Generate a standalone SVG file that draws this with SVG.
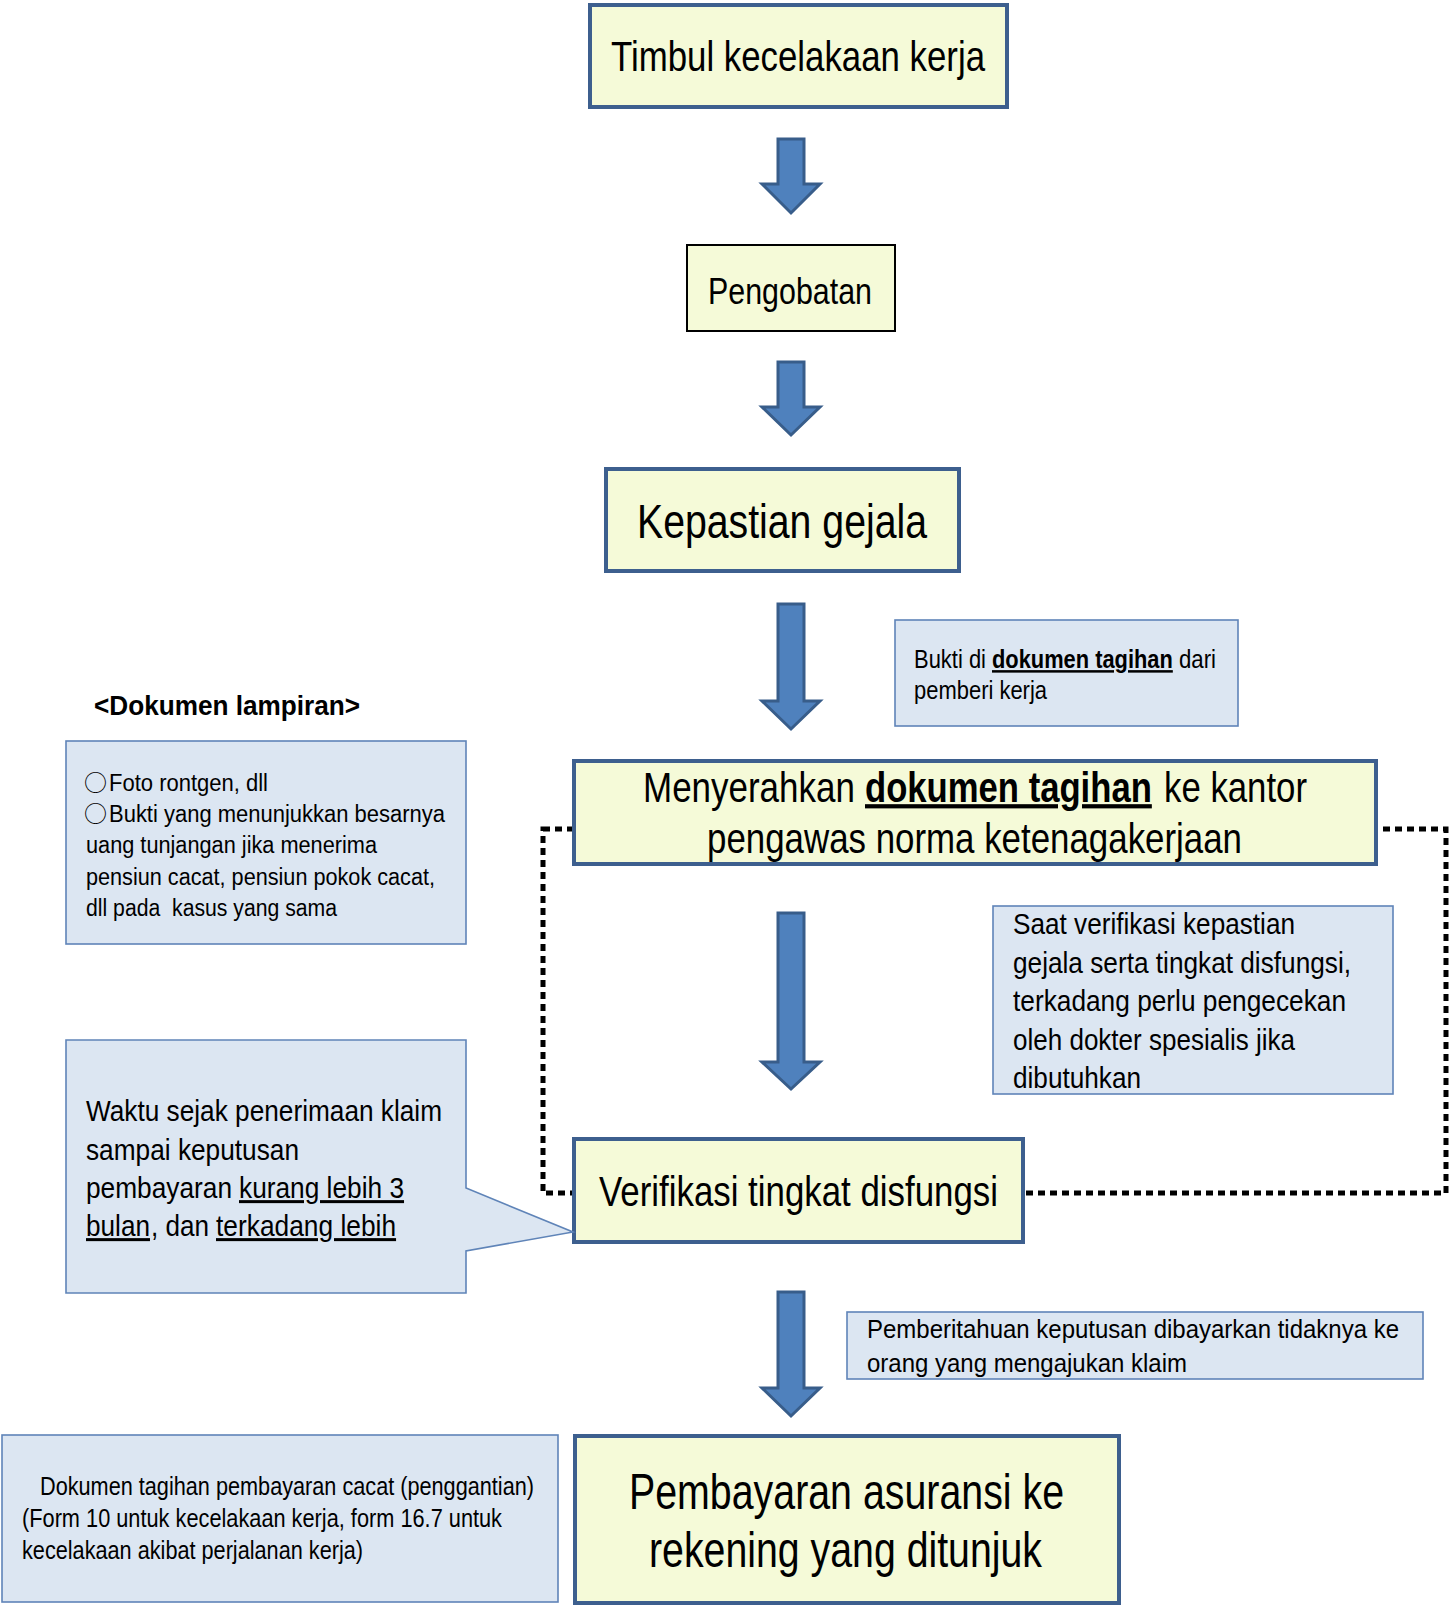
<svg xmlns="http://www.w3.org/2000/svg" width="1451" height="1606" viewBox="0 0 1451 1606">
<style>
.t{font-family:"Liberation Sans",Arial,sans-serif;fill:#000}
.c{font-family:"Noto Sans CJK JP","DejaVu Sans",sans-serif;fill:#000}
.main{fill:#f5fad8;stroke:#3d5f8e;stroke-width:4}
.note{fill:#dce6f2;stroke:#5f84b8;stroke-width:1.6}
.arr{fill:#4f81bd;stroke:#385d8a;stroke-width:3;stroke-linejoin:miter}
.b{font-weight:bold}
.u{text-decoration:underline}
</style>
<rect width="1451" height="1606" fill="#fff"/>
<g id="connectors">
  <rect x="543" y="829" width="903" height="364" fill="none" stroke="#000" stroke-width="5" stroke-dasharray="7 5"/>
  <path class="arr" d="M778,139H804V184H820L791,213L762,184H778Z"/>
  <path class="arr" d="M778,362H804V407H820L791,435L762,407H778Z"/>
  <path class="arr" d="M778,604H804V701H820L791,729L762,701H778Z"/>
  <path class="arr" d="M778,913H804V1062H820L791,1089L762,1062H778Z"/>
  <path class="arr" d="M778,1292H804V1388H820L791,1416L762,1388H778Z"/>
</g>
<g id="n1">
  <rect class="main" x="590" y="5" width="417" height="102"/>
  <text class="t" x="611" y="71" font-size="43" textLength="374" lengthAdjust="spacingAndGlyphs">Timbul kecelakaan kerja</text>
</g>
<g id="n2">
  <rect x="687" y="245" width="208" height="86" fill="#f5fad8" stroke="#000" stroke-width="2"/>
  <text class="t" x="708" y="304" font-size="37" textLength="164" lengthAdjust="spacingAndGlyphs">Pengobatan</text>
</g>
<g id="n3">
  <rect class="main" x="606" y="469" width="353" height="102"/>
  <text class="t" x="637" y="538" font-size="48" textLength="290" lengthAdjust="spacingAndGlyphs">Kepastian gejala</text>
</g>
<g id="n4">
  <rect class="note" x="895" y="620" width="343" height="106"/>
  <text class="t" transform="translate(914,668) scale(0.878,1)" font-size="25">Bukti di</text>
  <text class="t b u" transform="translate(992,668) scale(0.874,1)" font-size="25">dokumen tagihan</text>
  <text class="t" transform="translate(1179,668) scale(0.888,1)" font-size="25">dari</text>
  <text class="t" x="914" y="699" font-size="25" textLength="133" lengthAdjust="spacingAndGlyphs">pemberi kerja</text>
</g>
<g id="n5">
  <text class="t b" x="94" y="715" font-size="28" textLength="266" lengthAdjust="spacingAndGlyphs">&lt;Dokumen lampiran&gt;</text>
  <rect class="note" x="66" y="741" width="400" height="203"/>
  <text class="c" x="84" y="791" font-size="23">○</text>
  <text class="t" x="109" y="791" font-size="23" textLength="159" lengthAdjust="spacingAndGlyphs">Foto rontgen, dll</text>
  <text class="c" x="84" y="822" font-size="23">○</text>
  <text class="t" x="109" y="822" font-size="23" textLength="336" lengthAdjust="spacingAndGlyphs">Bukti yang menunjukkan besarnya</text>
  <text class="t" x="86" y="853" font-size="23" textLength="291" lengthAdjust="spacingAndGlyphs">uang tunjangan jika menerima</text>
  <text class="t" x="86" y="885" font-size="23" textLength="349" lengthAdjust="spacingAndGlyphs">pensiun cacat, pensiun pokok cacat,</text>
  <text class="t" x="86" y="916" font-size="23" textLength="251" lengthAdjust="spacingAndGlyphs" xml:space="preserve">dll pada  kasus yang sama</text>
</g>
<g id="n6">
  <rect class="main" x="574" y="761" width="802" height="103"/>
  <text class="t" transform="translate(643,802) scale(0.833,1)" font-size="42">Menyerahkan</text>
  <text class="t b u" transform="translate(865,802) scale(0.825,1)" font-size="42">dokumen tagihan</text>
  <text class="t" transform="translate(1164,802) scale(0.828,1)" font-size="42">ke kantor</text>
  <text class="t" x="707" y="853" font-size="42" textLength="535" lengthAdjust="spacingAndGlyphs">pengawas norma ketenagakerjaan</text>
</g>
<g id="n7">
  <rect class="note" x="993" y="906" width="400" height="188"/>
  <text class="t" x="1013" y="934" font-size="30" textLength="282" lengthAdjust="spacingAndGlyphs">Saat verifikasi kepastian</text>
  <text class="t" x="1013" y="973" font-size="30" textLength="338" lengthAdjust="spacingAndGlyphs">gejala serta tingkat disfungsi,</text>
  <text class="t" x="1013" y="1011" font-size="30" textLength="333" lengthAdjust="spacingAndGlyphs">terkadang perlu pengecekan</text>
  <text class="t" x="1013" y="1050" font-size="30" textLength="282" lengthAdjust="spacingAndGlyphs">oleh dokter spesialis jika</text>
  <text class="t" x="1013" y="1088" font-size="30" textLength="128" lengthAdjust="spacingAndGlyphs">dibutuhkan</text>
</g>
<g id="n8">
  <rect class="main" x="574" y="1139" width="449" height="103"/>
  <text class="t" x="599" y="1206" font-size="42" textLength="399" lengthAdjust="spacingAndGlyphs">Verifikasi tingkat disfungsi</text>
</g>
<g id="n9">
  <path class="note" d="M66,1040H466V1188L573,1232L466,1251V1293H66Z"/>
  <text class="t" x="86" y="1121" font-size="30" textLength="356" lengthAdjust="spacingAndGlyphs">Waktu sejak penerimaan klaim</text>
  <text class="t" x="86" y="1160" font-size="30" textLength="213" lengthAdjust="spacingAndGlyphs">sampai keputusan</text>
  <text class="t" transform="translate(86,1198) scale(0.876,1)" font-size="30">pembayaran</text>
  <text class="t u" transform="translate(239,1198) scale(0.876,1)" font-size="30">kurang lebih 3</text>
  <text class="t u" transform="translate(86,1236) scale(0.872,1)" font-size="30">bulan</text>
  <text class="t" transform="translate(151,1236) scale(0.87,1)" font-size="30">, dan</text>
  <text class="t u" transform="translate(216,1236) scale(0.878,1)" font-size="30">terkadang lebih</text>
</g>
<g id="n10">
  <rect class="note" x="847" y="1312" width="576" height="67"/>
  <text class="t" x="867" y="1338" font-size="26" textLength="532" lengthAdjust="spacingAndGlyphs">Pemberitahuan keputusan dibayarkan tidaknya ke</text>
  <text class="t" x="867" y="1372" font-size="26" textLength="320" lengthAdjust="spacingAndGlyphs">orang yang mengajukan klaim</text>
</g>
<g id="n11">
  <rect class="note" x="2" y="1435" width="556" height="167"/>
  <text class="t" x="40" y="1495" font-size="25" textLength="494" lengthAdjust="spacingAndGlyphs">Dokumen tagihan pembayaran cacat (penggantian)</text>
  <text class="t" x="22" y="1527" font-size="25" textLength="480" lengthAdjust="spacingAndGlyphs">(Form 10 untuk kecelakaan kerja, form 16.7 untuk</text>
  <text class="t" x="22" y="1559" font-size="25" textLength="341" lengthAdjust="spacingAndGlyphs">kecelakaan akibat perjalanan kerja)</text>
</g>
<g id="n12">
  <rect class="main" x="575" y="1436" width="544" height="167" stroke-width="5"/>
  <text class="t" x="629" y="1509" font-size="50" textLength="435" lengthAdjust="spacingAndGlyphs">Pembayaran asuransi ke</text>
  <text class="t" x="649" y="1567" font-size="50" textLength="393" lengthAdjust="spacingAndGlyphs">rekening yang ditunjuk</text>
</g>
</svg>
